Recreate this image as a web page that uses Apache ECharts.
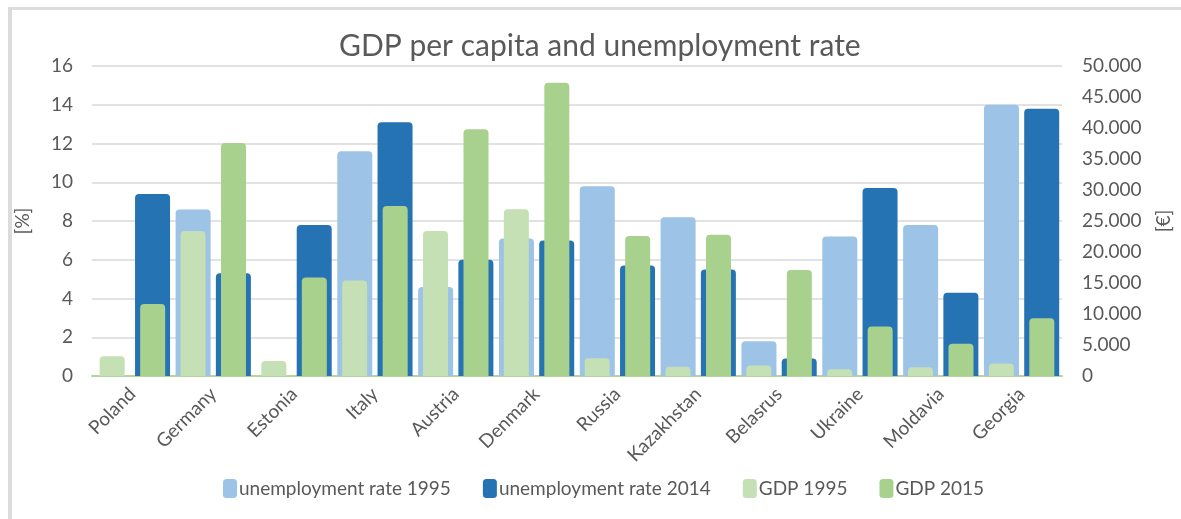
<!DOCTYPE html>
<html>
<head>
<meta charset="utf-8">
<script src="https://cdn.jsdelivr.net/npm/echarts@6/dist/echarts.min.js"></script>
<style>
  html, body { margin: 0; padding: 0; background: #fff; }
  #frame {
    position: absolute; left: 8px; top: 7px; right: 0; bottom: 0;
    border-top: 3px solid #dcdcdc; border-left: 4px solid #dcdcdc;
  }
  #chart { position: absolute; left: 0; top: 0; width: 1181px; height: 519px; }
</style>
</head>
<body>
<div id="frame"></div>
<div id="chart"></div>
<script>
// countries on the x axis
const countries = ["Poland", "Germany", "Estonia", "Italy", "Austria", "Denmark",
  "Russia", "Kazakhstan", "Belasrus", "Ukraine", "Moldavia", "Georgia"];

// unemployment rate [%] (left axis)
const unemp1995 = [null, 8.6, null, 11.6, 4.6, 7.1, 9.8, 8.2, 1.8, 7.2, 7.8, 14.0];
const unemp2014 = [9.4, 5.3, 7.8, 13.1, 6.0, 7.0, 5.7, 5.5, 0.9, 9.7, 4.3, 13.8];

// GDP per capita [€] (right axis)
const gdp1995 = [3200, 23400, 2400, 15400, 23400, 26900, 2850, 1500, 1700, 1100, 1400, 2000];
const gdp2015 = [11600, 37600, 15900, 27400, 39800, 47300, 22600, 22800, 17100, 8000, 5200, 9300];

const leftTicks = [0, 16, 2];
const rightTicks = [0, 50000, 5000];

const font = "Lato";
const grey = "#595959";

const chart = echarts.init(document.getElementById("chart"));

function bar(name, data, color, xIdx, yIdx, width, gap, z) {
  return {
    name: name,
    type: "bar",
    xAxisIndex: xIdx,
    yAxisIndex: yIdx,
    data: data,
    barWidth: width,
    barGap: gap,
    z: z,
    itemStyle: { color: color, borderRadius: [4, 4, 0, 0] }
  };
}

const option = {
  animation: false,
  textStyle: { fontFamily: font },
  title: {
    text: "GDP per capita and unemployment rate",
    left: 334,
    top: 26,
    textStyle: { fontFamily: font, fontSize: 30, fontWeight: "normal", color: grey }
  },
  legend: {
    bottom: 16,
    left: 218,
    itemWidth: 14,
    itemHeight: 19,
    itemGap: 32,
    icon: "roundRect",
    textStyle: { fontFamily: font, fontSize: 19, color: grey, padding: [0, 0, 0, -3] },
    data: ["unemployment rate 1995", "unemployment rate 2014", "GDP 1995", "GDP 2015"]
  },
  grid: { left: 92, right: 114, top: 66, bottom: 143 },
  xAxis: [
    {
      type: "category",
      data: countries,
      axisTick: { show: false },
      axisLine: { lineStyle: { color: "#b4d69b", width: 2 } },
      axisLabel: { rotate: 45, fontFamily: font, fontSize: 19, color: grey, margin: 15 }
    },
    {
      type: "category",
      data: countries,
      show: false
    }
  ],
  yAxis: [
    {
      type: "value",
      min: leftTicks[0],
      max: leftTicks[1],
      interval: leftTicks[2],
      name: "[%]",
      nameLocation: "middle",
      nameGap: 60,
      nameRotate: 90,
      nameTextStyle: { fontFamily: font, fontSize: 19, color: grey },
      axisLine: { show: false },
      axisTick: { show: false },
      axisLabel: { fontFamily: font, fontSize: 19, color: grey, margin: 19 },
      splitLine: { lineStyle: { color: "#d9d9d9", width: 1.5 } }
    },
    {
      type: "value",
      min: rightTicks[0],
      max: rightTicks[1],
      interval: rightTicks[2],
      name: "[€]",
      nameLocation: "middle",
      nameGap: 92,
      nameRotate: 90,
      nameTextStyle: { fontFamily: font, fontSize: 19, color: grey },
      axisLine: { show: false },
      axisTick: { show: false },
      splitLine: { show: false },
      axisLabel: {
        fontFamily: font, fontSize: 19, color: grey, margin: 20,
        formatter: v => v === 0 ? "0" : String(v).replace(/\B(?=(\d{3})+(?!\d))/g, ".")
      }
    }
  ],
  series: [
    bar("unemployment rate 1995", unemp1995, "#9dc3e6", 0, 0, 35, "15%", 2),
    bar("unemployment rate 2014", unemp2014, "#2573b3", 0, 0, 35, "15%", 2),
    bar("GDP 1995", gdp1995, "#c5e0b4", 1, 1, 25, "62%", 3),
    bar("GDP 2015", gdp2015, "#a9d18e", 1, 1, 25, "62%", 3)
  ]
};

chart.setOption(option);
</script>
</body>
</html>
